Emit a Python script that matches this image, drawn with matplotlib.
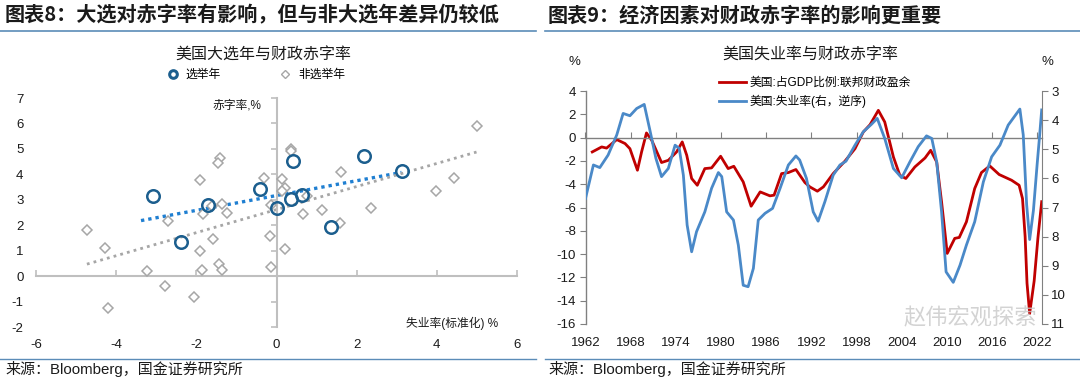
import numpy as np
import matplotlib.pyplot as plt
from matplotlib.lines import Line2D

plt.rcParams['font.family'] = ['Liberation Sans', 'Noto Sans CJK SC', 'DejaVu Sans']
plt.rcParams['axes.unicode_minus'] = False
cjk = ['Noto Sans CJK SC', 'DejaVu Sans']

# --- left chart: election years vs other years ---
elec_x = [-3.08, -1.72, -0.40, 0.00, 0.41, 0.37, 0.64, 2.18, 3.12, -2.38, 1.35]
elec_y = [3.13, 2.80, 3.44, 2.67, 4.54, 3.03, 3.19, 4.74, 4.15, 1.36, 1.92]

non_x = [4.99, 0.35, 0.35, -1.42, -1.45, -1.92, -0.32, 0.13, 0.22, 0.13,
         1.60, 4.44, 3.97, 0.76, -1.60, -1.37, -1.23, -1.83, -0.14, -2.70,
         -4.73, 0.66, 1.14, 2.37, 1.59, -4.28, -1.58, -0.16, -1.92, 0.21,
         -3.23, -1.86, -1.43, -1.37, -0.13, -2.78, -2.05, -4.21]
non_y = [5.90, 5.00, 4.92, 4.65, 4.43, 3.77, 3.85, 3.80, 3.46, 3.35,
         4.10, 3.86, 3.33, 3.16, 2.77, 2.82, 2.50, 2.45, 2.78, 2.17,
         1.80, 2.44, 2.60, 2.67, 2.07, 1.09, 1.45, 1.58, 1.00, 1.08,
         0.19, 0.25, 0.46, 0.24, 0.37, -0.37, -0.82, -1.25]

# --- right chart: fiscal balance (% GDP) and unemployment (inverted) ---
red_year = [1962.9, 1964.15, 1964.8, 1966.15, 1967.25, 1967.9, 1968.9, 1969.45, 1970.1, 1970.8,
            1972.1, 1973.0, 1974.1, 1974.85, 1975.45, 1976.1, 1976.85, 1977.85, 1978.75, 1979.95,
            1980.95, 1981.7, 1982.95, 1984.0, 1985.2, 1986.5, 1987.05, 1988.05, 1988.95, 1989.95,
            1991.15, 1991.8, 1992.8, 1993.6, 1994.9, 1996.45, 1997.8, 1998.9, 1999.8, 2000.9,
            2001.75, 2002.9, 2003.75, 2004.55, 2005.75, 2007.1, 2007.85, 2008.65, 2009.3, 2010.05,
            2011.05, 2011.65, 2012.6, 2013.7, 2014.6, 2015.7, 2016.95, 2018.6, 2019.6, 2020.05,
            2020.4, 2020.65, 2021.0, 2021.6, 2022.1, 2022.6]
red_val = [-1.23, -0.80, -0.90, -0.17, -0.51, -0.95, -2.80, -1.23, 0.40, -0.23,
           -2.14, -1.95, -1.23, -0.37, -1.52, -3.51, -4.09, -2.66, -2.60, -1.60,
           -2.66, -2.46, -3.80, -5.89, -4.66, -5.00, -4.94, -3.09, -3.00, -2.74,
           -3.86, -4.23, -4.60, -4.23, -3.09, -2.03, -0.95, 0.48, 1.11, 2.34,
           1.34, -1.66, -3.23, -3.51, -2.52, -1.75, -1.09, -2.09, -5.52, -9.94,
           -8.65, -8.57, -7.23, -4.37, -3.00, -2.43, -3.17, -3.66, -4.09, -5.23,
           -8.5, -12.5, -15.1, -12.3, -8.6, -5.5]

blue_year = [1962.0, 1963.05, 1963.9, 1965.0, 1966.15, 1967.0, 1967.9, 1968.8, 1969.8, 1970.55,
             1971.35, 1972.1, 1973.0, 1973.9, 1974.45, 1975.0, 1975.5, 1976.1, 1976.75, 1977.85,
             1978.75, 1979.65, 1980.1, 1980.75, 1981.65, 1982.3, 1982.95, 1983.6, 1984.3, 1984.95,
             1985.85, 1986.85, 1987.85, 1988.95, 1989.95, 1990.45, 1991.35, 1992.25, 1992.9, 1993.8,
             1994.9, 1995.8, 1996.6, 1997.8, 1998.9, 2000.0, 2000.75, 2001.75, 2002.9, 2004.0,
             2005.1, 2006.2, 2007.3, 2008.0, 2008.65, 2009.3, 2009.9, 2010.85, 2011.75, 2012.6,
             2013.7, 2014.85, 2015.95, 2017.05, 2018.15, 2019.7, 2020.15, 2020.6, 2021.0, 2021.5,
             2022.0, 2022.3, 2022.6]
blue_val = [6.69, 5.54, 5.63, 5.20, 4.51, 3.77, 3.85, 3.60, 3.46, 4.34,
            5.31, 5.94, 5.66, 4.86, 4.97, 5.89, 7.60, 8.52, 7.83, 7.15,
            6.34, 5.80, 5.94, 7.15, 7.43, 8.29, 9.67, 9.72, 9.09, 7.43,
            7.20, 7.03, 6.34, 5.54, 5.23, 5.37, 6.00, 7.15, 7.47, 6.80,
            5.89, 5.54, 5.41, 4.86, 4.40, 4.14, 3.94, 4.63, 5.66, 5.98,
            5.43, 4.91, 4.54, 4.63, 5.43, 7.15, 9.21, 9.57, 8.98, 8.29,
            7.49, 6.12, 5.26, 4.86, 4.17, 3.62, 4.51, 6.9, 8.1, 7.1,
            5.5, 4.6, 3.65]

W, H = 1080, 381
fig = plt.figure(figsize=(10.8, 3.81), dpi=100)

def fx(px):
    return px / W

def fy(py):
    return 1 - py / H

# headers, rules and sources
hdr_blue = '#5b8cb8'
fig.text(fx(5), fy(15), '图表8：大选对赤字率有影响，但与非大选年差异仍较低', fontsize=14.5,
         fontweight='bold', family=cjk, va='center', color='#1a1a1a')
fig.text(fx(548), fy(15), '图表9：经济因素对财政赤字率的影响更重要', fontsize=14.5,
         fontweight='bold', family=cjk, va='center', color='#1a1a1a')
for x0, x1 in [(0, 536), (545, 1080)]:
    fig.add_artist(Line2D([fx(x0), fx(x1)], [fy(31), fy(31)], color=hdr_blue, lw=1.2))
    fig.add_artist(Line2D([fx(x0), fx(x1)], [fy(359), fy(359)], color=hdr_blue, lw=1.0))
fig.text(fx(5), fy(369), '来源：Bloomberg，国金证券研究所', fontsize=10.8, va='center', color='#1a1a1a')
fig.text(fx(548), fy(369), '来源：Bloomberg，国金证券研究所', fontsize=10.8, va='center', color='#1a1a1a')

# ---------------- left chart ----------------
ax1 = fig.add_axes([fx(36), fy(327), fx(517 - 36), (327 - 98) / H])
axis_gray = '#bfbfbf'
dark_blue = '#1b5e8e'
pt_gray = '#a6a6a6'

# trend lines
k_e, b_e = np.polyfit(elec_x, elec_y, 1)
xe = np.array([min(elec_x) - 0.3, max(elec_x)])
ax1.plot(xe, k_e * xe + b_e, color='#1f7fd1', lw=2.4, ls=(0, (1, 1.2)), zorder=2)
k_n, b_n = np.polyfit(non_x, non_y, 1)
xn = np.array([min(non_x), max(non_x)])
ax1.plot(xn, k_n * xn + b_n, color=pt_gray, lw=2.0, ls=(0, (1, 1.5)), zorder=2)

ax1.plot(non_x, non_y, ls='none', marker='D', ms=5.5, mfc='white', mec=pt_gray, mew=1.1,
         label='非选举年', zorder=3)
ax1.plot(elec_x, elec_y, ls='none', marker='o', ms=9, mfc='none', mec=dark_blue, mew=1.8,
         label='选举年', zorder=4)

ax1.set_xlim(-6, 6)
ax1.set_ylim(-2, 7)
for s in ['top', 'right']:
    ax1.spines[s].set_visible(False)
ax1.spines['left'].set_position(('data', 0))
ax1.spines['bottom'].set_position(('data', 0))
for s in ['left', 'bottom']:
    ax1.spines[s].set_color(axis_gray)
    ax1.spines[s].set_linewidth(1.5)
ax1.set_xticks(range(-6, 7, 2))
ax1.set_yticks(range(-2, 8))
ax1.tick_params(axis='x', direction='in', length=4, width=1.2, color=axis_gray, labelbottom=False)
ax1.tick_params(axis='y', direction='out', length=4, width=1.2, color=axis_gray, labelleft=False)
ax1.patch.set_visible(False)

sx1 = ax1.secondary_xaxis('bottom')
sx1.set_xticks(range(-6, 7, 2))
sx1.spines['bottom'].set_visible(False)
sx1.tick_params(length=0, pad=9, labelsize=9.5, labelcolor='#1a1a1a')
sy1 = ax1.secondary_yaxis('left')
sy1.set_yticks(range(-2, 8))
sy1.spines['left'].set_visible(False)
sy1.tick_params(length=0, pad=9, labelsize=9.5, labelcolor='#1a1a1a')

fig.text(fx(263), fy(55), '美国大选年与财政赤字率', fontsize=11.5, ha='center', va='center',
         family=cjk, color='#1a1a1a')
fig.text(fx(237), fy(106), '赤字率,%', fontsize=8.5, ha='center', va='center', color='#1a1a1a')
fig.text(fx(452), fy(323), '失业率(标准化) %', fontsize=8.5, ha='center', va='center', color='#1a1a1a')

h_e = Line2D([], [], ls='none', marker='o', ms=5.5, mfc='none', mec=dark_blue, mew=2.2)
h_n = Line2D([], [], ls='none', marker='D', ms=4.5, mfc='white', mec=pt_gray, mew=1.0)
fig.legend([h_e, h_n], ['选举年', '非选举年'], ncol=2, loc='center',
           bbox_to_anchor=(fx(256), fy(75)), frameon=False, fontsize=8.5,
           handlelength=1.0, handletextpad=0.6, columnspacing=4.9)

# ---------------- right chart ----------------
ax2 = fig.add_axes([fx(585.5), fy(324), fx(1041.7 - 585.5), (324 - 91) / H])
ax2b = ax2.twinx()
line_gray = '#808080'
red = '#c00000'
blue = '#4a89c8'

l_red, = ax2.plot(red_year, red_val, color=red, lw=2.0, label='美国:占GDP比例:联邦财政盈余')
l_blue, = ax2b.plot(blue_year, blue_val, color=blue, lw=2.0, label='美国:失业率(右，逆序)')

ax2.set_xlim(1962, 2022.6)
ax2.set_ylim(-16, 4)
ax2.set_yticks(range(-16, 5, 2))
ax2.set_xticks(range(1962, 2023, 6))
ax2.spines['top'].set_visible(False)
ax2.spines['right'].set_visible(False)
ax2.spines['bottom'].set_position(('data', 0))
for s in ['left', 'bottom']:
    ax2.spines[s].set_color(line_gray)
    ax2.spines[s].set_linewidth(1.0)
ax2.tick_params(axis='x', direction='in', length=4, color=line_gray, labelbottom=False)
ax2.tick_params(axis='y', direction='out', length=4, color=line_gray, labelsize=9.5,
                pad=3, labelcolor='#1a1a1a')

ax2b.set_ylim(11, 3)
ax2b.set_yticks(range(3, 12))
for s in ['top', 'bottom', 'left']:
    ax2b.spines[s].set_visible(False)
ax2b.spines['right'].set_color(line_gray)
ax2b.tick_params(axis='y', direction='out', length=4, color=line_gray, labelsize=9.5,
                 pad=3, labelcolor='#1a1a1a')

sx2 = ax2.secondary_xaxis('bottom')
sx2.set_xticks(range(1962, 2023, 6))
sx2.spines['bottom'].set_visible(False)
sx2.tick_params(length=0, pad=9, labelsize=9.5, labelcolor='#1a1a1a')

fig.text(fx(810), fy(55), '美国失业率与财政赤字率', fontsize=11.5, ha='center', va='center',
         family=cjk, color='#1a1a1a')
fig.text(fx(574), fy(62), '%', fontsize=9.5, ha='center', va='center', color='#1a1a1a')
fig.text(fx(1047), fy(62), '%', fontsize=9.5, ha='center', va='center', color='#1a1a1a')
fig.legend([l_red, l_blue], [l_red.get_label(), l_blue.get_label()], loc='upper left',
           bbox_to_anchor=(fx(714), fy(72)), frameon=False, fontsize=8.5,
           handlelength=2.3, handletextpad=0.3, labelspacing=0.55, borderaxespad=0)

# watermark, kept just above the year labels
fig.text(fx(970), fy(318), '赵伟宏观探索', fontsize=16, ha='center', va='center',
         family=cjk, color='#c8c8c8', alpha=0.8)

fig.savefig('out.png', dpi=100)
